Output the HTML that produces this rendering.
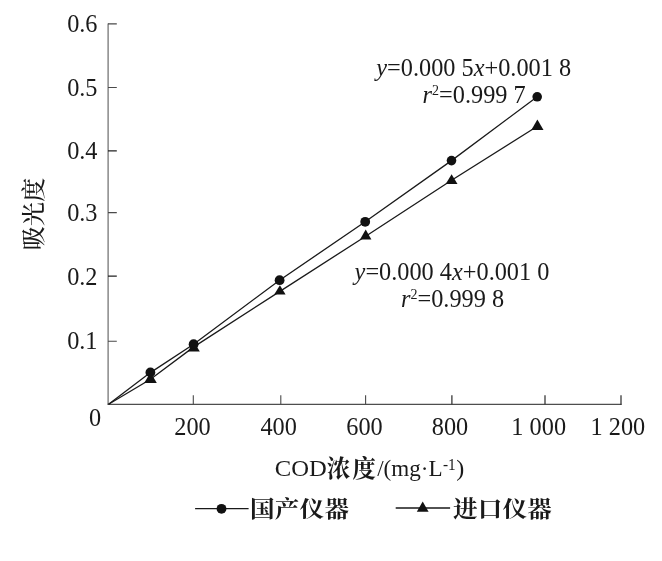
<!DOCTYPE html>
<html lang="zh">
<head>
<meta charset="utf-8">
<title>COD浓度 吸光度</title>
<style>
html,body{margin:0;padding:0;background:#fff;}
svg{display:block;}
text{font-family:"Liberation Serif","Noto Serif CJK SC",serif;fill:#1a1a1a;}
.n{font-size:24.3px;}
.i{font-style:italic;}
.cj{font-family:"Noto Serif CJK SC","Liberation Serif",serif;}
</style>
</head>
<body>
<svg width="662" height="561" viewBox="0 0 662 561">
<rect width="662" height="561" fill="#fff"/>
<!-- axes -->
<g stroke="#4a4a4a" stroke-width="1.1" fill="none">
<path d="M108.1 23.4V404.3" stroke="#6a6a6a" stroke-width="1.2"/><path d="M107.5 404.3H621.6" stroke="#222" stroke-width="1"/>
<path d="M108 23.9h8.8M108 87.5h8.8M108 212.6h8.8M108 341.3h8.8"/><path d="M108 150.8h8.8M108 276.2h8.8" stroke="#222" stroke-width="1.3"/>
<path d="M193.3 404.2v-9M280.8 404.2v-9M365.6 404.2v-9"/><path d="M451.9 404.2v-9M545 404.2v-9M621 404.7v-9.5" stroke="#2a2a2a" stroke-width="1.2"/>
</g>
<!-- series lines -->
<g stroke="#1a1a1a" stroke-width="1.3" fill="none">
<polyline points="108.6,404.3 150.4,372.6 193.6,344.2 279.6,280.2 365.2,221.8 451.5,160.6 537.2,96.8"/>
<polyline points="108.6,404.3 150.5,379.3 193.8,346.9 279.9,291.4 365.7,236.2 451.6,180.2 537.4,126.3"/>
</g>
<!-- triangles -->
<g fill="#111">
<path d="M150.5 372.3l6.3 10.7h-12.6z"/>
<path d="M193.8 341.6l6 9.8h-12z"/>
<path d="M279.9 285.2l5.7 9.4h-11.4z"/>
<path d="M365.7 229.4l5.7 10h-11.4z"/>
<path d="M451.6 174.2l5.9 9.7h-11.8z"/>
<path d="M537.4 119.6l6.1 10.5h-12.2z"/>
</g>
<!-- circles -->
<g fill="#111">
<circle cx="150.4" cy="372.4" r="4.9"/>
<circle cx="193.6" cy="344.2" r="4.9"/>
<circle cx="279.6" cy="280.2" r="4.9"/>
<circle cx="365.2" cy="221.8" r="4.9"/>
<circle cx="451.5" cy="160.6" r="4.8"/>
<circle cx="537.2" cy="96.8" r="4.8"/>
</g>
<!-- y tick labels -->
<g class="n" text-anchor="end">
<text x="97.5" y="32.2">0.6</text>
<text x="97.5" y="95.8">0.5</text>
<text x="97.5" y="159.0">0.4</text>
<text x="97.5" y="221.1">0.3</text>
<text x="97.5" y="284.5">0.2</text>
<text x="97.5" y="348.9">0.1</text>
</g>
<!-- x tick labels -->
<g class="n" text-anchor="middle">
<text x="95" y="426">0</text>
<text x="192.5" y="434.6">200</text>
<text x="278.7" y="434.6">400</text>
<text x="364.5" y="434.6">600</text>
<text x="450" y="434.6">800</text>
<text x="538.7" y="434.6">1 000</text>
<text x="617.9" y="434.6">1 200</text>
</g>
<!-- equations -->
<g class="n">
<text x="376.3" y="76.4"><tspan class="i">y</tspan>=0.000 5<tspan class="i">x</tspan>+0.001 8</text>
<text x="422.6" y="103.2"><tspan class="i">r</tspan><tspan font-size="14" dy="-7.9">2</tspan><tspan dy="7.9">=0.999 7</tspan></text>
<text x="354.6" y="279.6"><tspan class="i">y</tspan>=0.000 4<tspan class="i">x</tspan>+0.001 0</text>
<text x="401" y="307.3"><tspan class="i">r</tspan><tspan font-size="14" dy="-7.9">2</tspan><tspan dy="7.9">=0.999 8</tspan></text>
</g>
<!-- axis titles -->
<text class="cj" font-size="24" font-weight="500" text-anchor="middle" textLength="72.5" lengthAdjust="spacing" transform="translate(41.8 213.9) rotate(-90)">吸光度</text>
<text font-size="24" x="274.8" y="475.6" textLength="52" lengthAdjust="spacingAndGlyphs">COD</text>
<text class="cj" font-size="23.6" font-weight="700" x="326.8" y="476.7" textLength="49" lengthAdjust="spacing">浓度</text>
<text font-size="24" x="377.2" y="475.6" textLength="65.4" lengthAdjust="spacingAndGlyphs">/(mg·L</text>
<text font-size="16.5" x="443" y="469.8" textLength="12.8" lengthAdjust="spacingAndGlyphs">-1</text>
<text font-size="24" x="456.2" y="475.6">)</text>
<!-- legend -->
<g stroke="#1a1a1a" stroke-width="1.3"><path d="M195.1 508.6H248.6M395.7 508H450.1"/></g>
<circle cx="221.5" cy="508.8" r="4.9" fill="#111"/>
<path d="M422.7 501.4l5.9 10.4h-11.8z" fill="#111"/>
<text class="cj" font-size="24.6" font-weight="700" transform="translate(250 517.3) scale(1 0.91)" textLength="99" lengthAdjust="spacing">国产仪器</text>
<text class="cj" font-size="24.6" font-weight="700" transform="translate(453 517.3) scale(1 0.91)" textLength="98.8" lengthAdjust="spacing">进口仪器</text>
</svg>
</body>
</html>
